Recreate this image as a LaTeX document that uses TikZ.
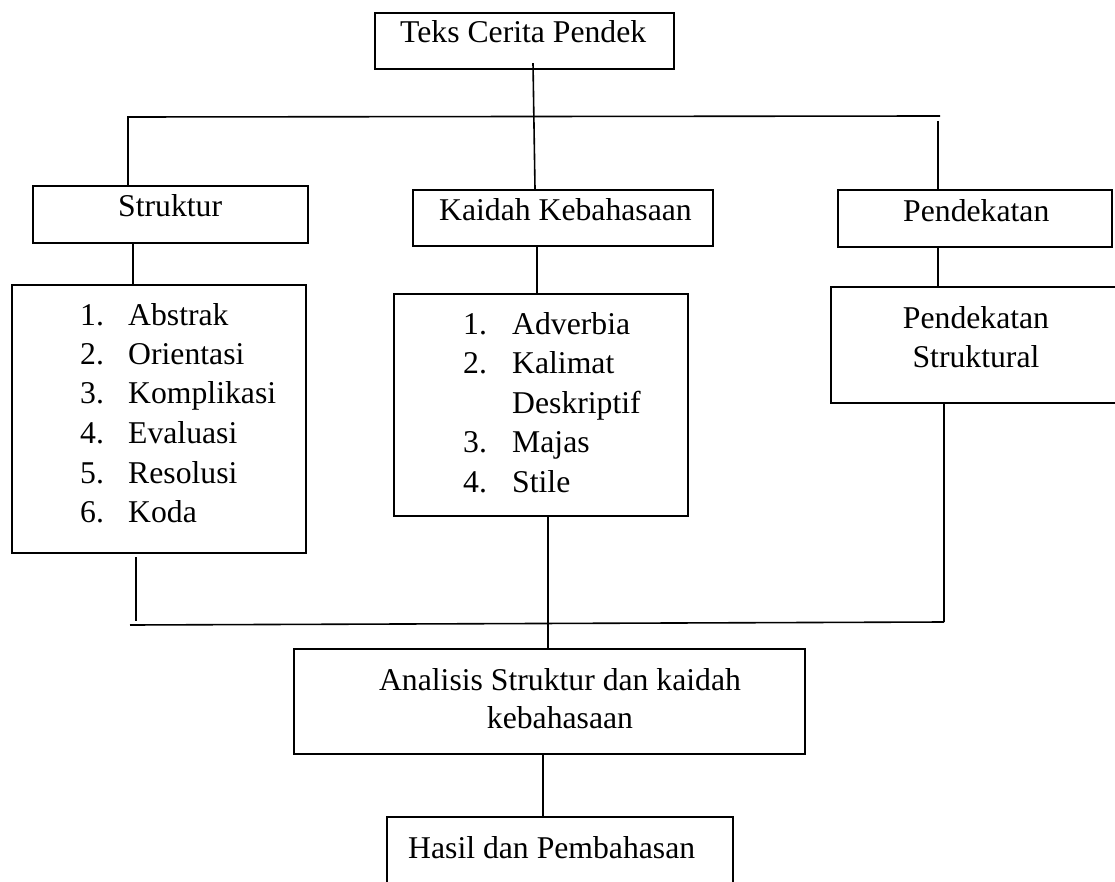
\documentclass[tikz,border=0pt]{standalone}
\usepackage{fontspec}
\setmainfont{Liberation Serif}
\usetikzlibrary{calc}
\begin{document}
\begin{tikzpicture}[x=1pt,y=-1pt,
  box/.style={draw, line width=2.4pt, inner sep=0pt, rectangle},
  conn/.style={line width=1.6pt},
  txt/.style={inner sep=0pt, anchor=base west, font=\fontsize{31.7}{39.4}\selectfont},
  ctxt/.style={txt, anchor=base}]
\useasboundingbox (0,0) rectangle (1115,882);
\fill[white] (0,0) rectangle (1115,882);
\clip (0,0) rectangle (1115,882);
% boxes
\node[box, minimum width=299pt, minimum height=56pt] (top) at (524.5,41) {};
\node[box, minimum width=275pt, minimum height=57pt] (struk) at (170.5,214.5) {};
\node[box, minimum width=300pt, minimum height=56pt] (kaidah) at (563,218) {};
\node[box, minimum width=274pt, minimum height=57pt] (pend) at (975,218.5) {};
\node[box, minimum width=294pt, minimum height=268pt] (strlist) at (159,419) {};
\node[box, minimum width=294pt, minimum height=222pt] (kaidahlist) at (541,405) {};
\node[box, minimum width=294pt, minimum height=116pt] (pendstr) at (978,345) {};
\node[box, minimum width=511pt, minimum height=105pt] (analisis) at (549.5,701.5) {};
\node[box, minimum width=346pt, minimum height=83pt] (hasil) at (560,858.5) {};
% texts
\node[txt] (tTop) at (400,43) {Teks Cerita Pendek};
\node[txt] (tStruk) at (118,217) {Struktur};
\node[txt] (tKaidah) at (439,221) {Kaidah Kebahasaan};
\node[txt] (tPend) at (903,222) {Pendekatan};
\node[ctxt] (tPs1) at (976,328) {Pendekatan};
\node[ctxt] (tPs2) at (976,367) {Struktural};
\foreach \n/\t/\y in {1/Abstrak/325,2/Orientasi/364,3/Komplikasi/403,4/Evaluasi/443,5/Resolusi/483,6/Koda/522}{
  \node[txt] (sn\n) at (80,\y) {\n.};
  \node[txt] (st\n) at (128,\y) {\t};
}
\node[txt] (kn1) at (463,334) {1.};
\node[txt] (kt1) at (512,334) {Adverbia};
\node[txt] (kn2) at (463,373) {2.};
\node[txt] (kt2) at (512,373) {Kalimat};
\node[txt] (kt2b) at (512,413) {Deskriptif};
\node[txt] (kn3) at (463,452) {3.};
\node[txt] (kt3) at (512,452) {Majas};
\node[txt] (kn4) at (463,492) {4.};
\node[txt] (kt4) at (512,492) {Stile};
\node[ctxt] (tAn1) at (560,690) {Analisis Struktur dan kaidah};
\node[ctxt] (tAn2) at (560,728) {kebahasaan};
\node[txt] (tHasil) at (408,858) {Hasil dan Pembahasan};
% connector coordinates
\coordinate (xTop1) at (533,0);
\coordinate (xTop2) at (535,0);
\coordinate (busL) at (128,117);
\coordinate (busR) at (940,116);
\coordinate (busR2) at (938,121);
\coordinate (xs) at (133,0);
\coordinate (xk) at (537,0);
\coordinate (xp) at (938,0);
\coordinate (bLv) at (136,0);
\coordinate (bLv2) at (136,621);
\coordinate (bL) at (130,625);
\coordinate (bR) at (944,622);
\coordinate (xk2) at (548,0);
\coordinate (xa) at (543,0);
% connectors
\draw[conn] ($(top.south -| xTop1)+(0,-7)$) -- (kaidah.north -| xTop2);
\draw[conn] (struk.north -| busL) -- (busL) -- (busR);
\draw[conn] (busR2) -- (pend.north -| busR2);
\draw[conn] (struk.south -| xs) -- (strlist.north -| xs);
\draw[conn] (kaidah.south -| xk) -- (kaidahlist.north -| xk);
\draw[conn] (pend.south -| xp) -- (pendstr.north -| xp);
\draw[conn] ($(strlist.south -| bLv)+(0,3)$) -- (bLv2);
\draw[conn] (bL) -- (bR);
\draw[conn] (pendstr.south -| bR) -- (bR);
\draw[conn] (kaidahlist.south -| xk2) -- (analisis.north -| xk2);
\draw[conn] (analisis.south -| xa) -- (hasil.north -| xa);
\end{tikzpicture}
\end{document}
